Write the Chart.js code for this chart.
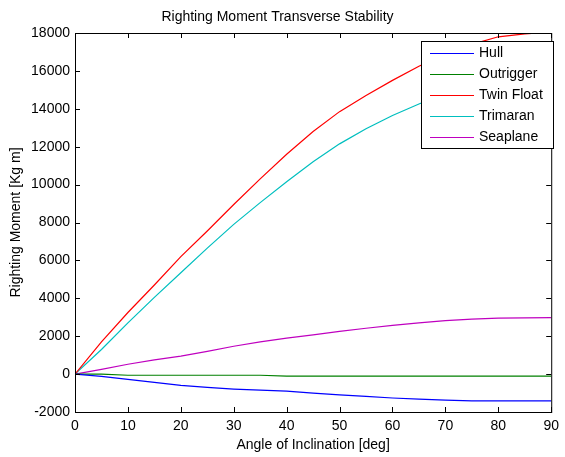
<!DOCTYPE html>
<html>
<head>
<meta charset="utf-8">
<script src="https://cdn.jsdelivr.net/npm/chart.js@4"></script>
<style>
  html, body { margin: 0; padding: 0; background: #fff; }
</style>
</head>
<body>
<canvas id="chart" width="565" height="457"></canvas>
<script>
// angle of inclination [deg]
const angles = [0, 5, 10, 15, 20, 25, 30, 35, 40, 45, 50, 55, 60, 65, 70, 75, 80, 85, 90];

// righting moment [Kg m]
const hull = [0, -120, -280, -440, -590, -700, -790, -850, -900, -1000, -1100, -1180, -1260, -1320, -1370, -1410, -1410, -1410, -1410];
const outrigger = [0, 0, -60, -60, -60, -60, -60, -60, -110, -110, -110, -110, -110, -110, -110, -110, -110, -110, -110];
const twinFloat = [0, 1700, 3250, 4700, 6200, 7550, 8950, 10300, 11600, 12800, 13850, 14700, 15500, 16250, 16900, 17400, 17800, 17950, 18050];
const trimaran = [0, 1300, 2700, 4050, 5350, 6650, 7900, 9050, 10150, 11200, 12150, 12950, 13650, 14250, 14800, 15200, 15500, 15700, 15800];
const seaplane = [0, 250, 520, 750, 950, 1200, 1470, 1700, 1900, 2070, 2250, 2420, 2570, 2700, 2820, 2900, 2950, 2970, 2980];

const seriesNames = ['Hull', 'Outrigger', 'Twin Float', 'Trimaran', 'Seaplane'];
const seriesData = [hull, outrigger, twinFloat, trimaran, seaplane];
const seriesColors = ['#0000ff', '#008000', '#ff0000', '#00bfbf', '#bf00bf'];

const FONT = '"Liberation Sans", Arial, sans-serif';
Chart.defaults.font.family = FONT;
Chart.defaults.font.size = 14;
Chart.defaults.color = '#000';

// MATLAB style box with inward ticks on all four sides
const boxTicks = {
    id: 'boxTicks',
    afterDatasetsDraw(chart) {
        const { ctx, chartArea: a, scales } = chart;
        const len = 5;
        ctx.save();
        ctx.strokeStyle = '#000';
        ctx.lineWidth = 1;
        ctx.beginPath();
        scales.x.ticks.forEach(t => {
            const px = Math.round(scales.x.getPixelForValue(t.value)) + 0.5;
            ctx.moveTo(px, a.bottom); ctx.lineTo(px, a.bottom - len);
            ctx.moveTo(px, a.top); ctx.lineTo(px, a.top + len);
        });
        scales.y.ticks.forEach(t => {
            const py = Math.round(scales.y.getPixelForValue(t.value)) + 0.5;
            ctx.moveTo(a.left, py); ctx.lineTo(a.left + len, py);
            ctx.moveTo(a.right, py); ctx.lineTo(a.right - len, py);
        });
        ctx.stroke();
        ctx.strokeRect(a.left + 0.5, a.top + 0.5, a.right - a.left, a.bottom - a.top);
        ctx.restore();
    }
};

// legend box in the upper right corner
const boxLegend = {
    id: 'boxLegend',
    afterDraw(chart) {
        const { ctx } = chart;
        const x0 = 421, y0 = 41, w = 132, h = 107;
        ctx.save();
        ctx.fillStyle = '#fff';
        ctx.fillRect(x0, y0, w, h);
        ctx.strokeStyle = '#000';
        ctx.lineWidth = 1;
        ctx.strokeRect(x0 + 0.5, y0 + 0.5, w, h);
        ctx.font = '14px ' + FONT;
        ctx.textBaseline = 'middle';
        chart.data.datasets.forEach((ds, i) => {
            const y = 53.5 + i * 21;
            ctx.strokeStyle = ds.borderColor;
            ctx.lineWidth = 1;
            ctx.beginPath();
            ctx.moveTo(430, y); ctx.lineTo(474, y);
            ctx.stroke();
            ctx.fillStyle = '#000';
            ctx.fillText(ds.label, 479, y);
        });
        ctx.restore();
    }
};

new Chart(document.getElementById('chart'), {
    type: 'line',
    data: {
        datasets: seriesNames.map((name, i) => ({
            label: name,
            data: angles.map((a, j) => ({ x: a, y: seriesData[i][j] })),
            borderColor: seriesColors[i],
            borderWidth: 1.2,
            pointRadius: 0,
            tension: 0,
            fill: false
        }))
    },
    options: {
        responsive: false,
        animation: false,
        layout: { padding: { left: 0, right: 10, top: 0, bottom: 0 } },
        plugins: {
            legend: { display: false },
            tooltip: { enabled: false },
            title: {
                display: true,
                text: 'Righting Moment Transverse Stability',
                color: '#000',
                font: { size: 14, weight: 'normal' },
                padding: { top: 8.6, bottom: 7.6 }
            }
        },
        scales: {
            x: {
                type: 'linear',
                min: 0,
                max: 90,
                ticks: { stepSize: 10, padding: 6, maxRotation: 0 },
                grid: { display: false, drawTicks: false },
                border: { display: false },
                title: {
                    display: true,
                    text: 'Angle of Inclination [deg]',
                    padding: { top: 0, bottom: 3.5 }
                },
                afterFit(scale) { scale.height = 45; }
            },
            y: {
                min: -2000,
                max: 18000,
                ticks: {
                    stepSize: 2000,
                    padding: 5,
                    callback: v => String(v)
                },
                grid: { display: false, drawTicks: false },
                border: { display: false },
                title: {
                    display: true,
                    text: 'Righting Moment [Kg m]',
                    padding: { top: 8, bottom: 0 }
                },
                afterFit(scale) { scale.width = 75; }
            }
        }
    },
    plugins: [boxTicks, boxLegend]
});
</script>
</body>
</html>
